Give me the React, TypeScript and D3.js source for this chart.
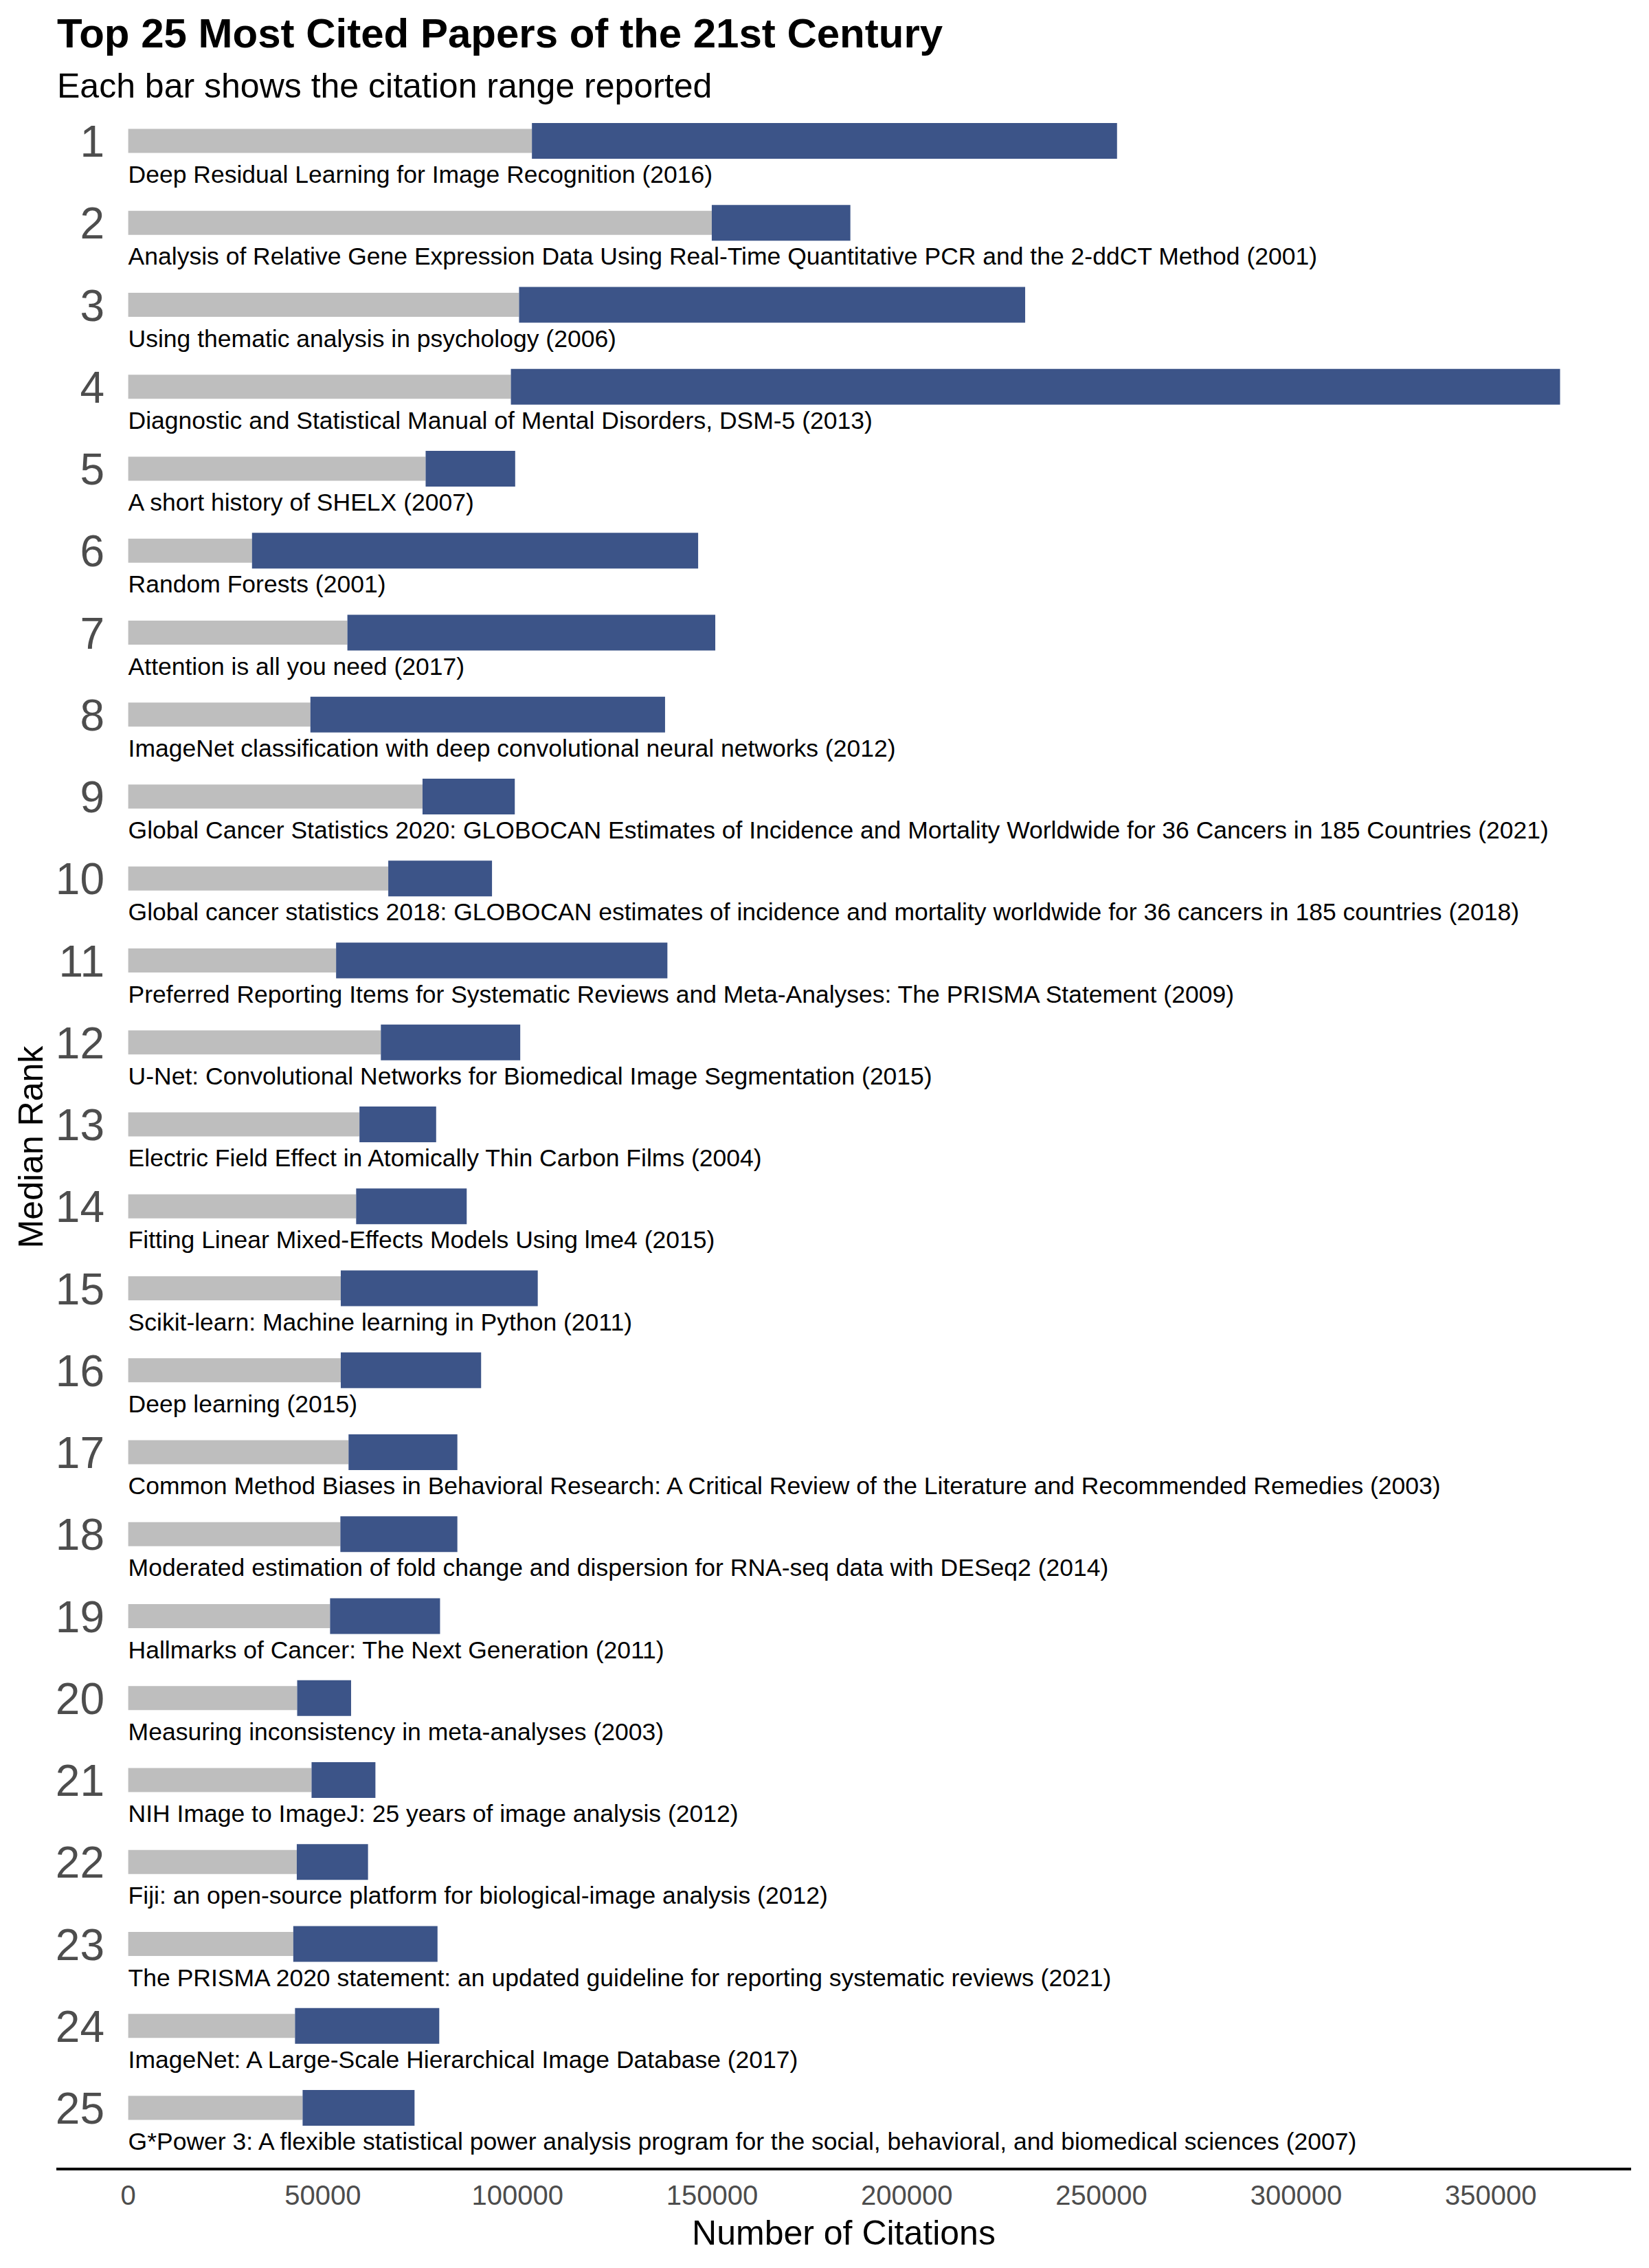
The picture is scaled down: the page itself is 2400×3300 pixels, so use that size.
import * as d3 from "d3";

const ranks = [1, 2, 3, 4, 5, 6, 7, 8, 9, 10, 11, 12, 13, 14, 15, 16, 17, 18, 19, 20, 21, 22, 23, 24, 25];

const titles = [
  "Deep Residual Learning for Image Recognition (2016)",
  "Analysis of Relative Gene Expression Data Using Real-Time Quantitative PCR and the 2-ddCT Method (2001)",
  "Using thematic analysis in psychology (2006)",
  "Diagnostic and Statistical Manual of Mental Disorders, DSM-5 (2013)",
  "A short history of SHELX (2007)",
  "Random Forests (2001)",
  "Attention is all you need (2017)",
  "ImageNet classification with deep convolutional neural networks (2012)",
  "Global Cancer Statistics 2020: GLOBOCAN Estimates of Incidence and Mortality Worldwide for 36 Cancers in 185 Countries (2021)",
  "Global cancer statistics 2018: GLOBOCAN estimates of incidence and mortality worldwide for 36 cancers in 185 countries (2018)",
  "Preferred Reporting Items for Systematic Reviews and Meta-Analyses: The PRISMA Statement (2009)",
  "U-Net: Convolutional Networks for Biomedical Image Segmentation (2015)",
  "Electric Field Effect in Atomically Thin Carbon Films (2004)",
  "Fitting Linear Mixed-Effects Models Using lme4 (2015)",
  "Scikit-learn: Machine learning in Python (2011)",
  "Deep learning (2015)",
  "Common Method Biases in Behavioral Research: A Critical Review of the Literature and Recommended Remedies (2003)",
  "Moderated estimation of fold change and dispersion for RNA-seq data with DESeq2 (2014)",
  "Hallmarks of Cancer: The Next Generation (2011)",
  "Measuring inconsistency in meta-analyses (2003)",
  "NIH Image to ImageJ: 25 years of image analysis (2012)",
  "Fiji: an open-source platform for biological-image analysis (2012)",
  "The PRISMA 2020 statement: an updated guideline for reporting systematic reviews (2021)",
  "ImageNet: A Large-Scale Hierarchical Image Database (2017)",
  "G*Power 3: A flexible statistical power analysis program for the social, behavioral, and biomedical sciences (2007)",
];

// lowest and highest citation counts reported for each paper
const minCitations = [
  103700, 149900, 100400, 98300, 76400, 31800, 56300, 46800, 75600, 66800,
  53400, 64900, 59400, 58550, 54600, 54600, 56600, 54500, 51850, 43400,
  47100, 43300, 42400, 42850, 44800,
];
const maxCitations = [
  254000, 185500, 230400, 367800, 99400, 146400, 150800, 137900, 99300, 93450,
  138500, 100700, 79100, 86950, 105200, 90650, 84550, 84550, 80100, 57250,
  63500, 61600, 79450, 79900, 73550,
];

const xTicks = [0, 50000, 100000, 150000, 200000, 250000, 300000, 350000];

const FONT = "'Liberation Sans', Arial, Helvetica, sans-serif";
const GRAY = "#BEBEBE";
const BLUE = "#3C5488";
const TEXT_GRAY = "#4D4D4D";

export default function App() {
  const width = 2400;
  const height = 3300;

  const x = d3.scaleLinear().domain([0, 350000]).range([186.6, 2169.7]);
  const y = d3.scaleLinear().domain([1, 25]).range([205, 3067]);

  const grayH = 35;
  const blueH = 52;
  const axisY = 3156;

  return (
    <svg
      width={width}
      height={height}
      style={{ position: "absolute", left: 0, top: 0, background: "#fff" }}
      fontFamily={FONT}
    >
      <rect width={width} height={height} fill="#fff" />

      <text x={83} y={69} fontSize={60} fontWeight="bold" fill="#000">
        Top 25 Most Cited Papers of the 21st Century
      </text>
      <text x={83} y={142} fontSize={50} fill="#000">
        Each bar shows the citation range reported
      </text>

      {ranks.map((r, i) => (
        <g key={r}>
          <rect
            x={x(0)}
            y={y(r) - grayH / 2}
            width={x(minCitations[i]) - x(0)}
            height={grayH}
            fill={GRAY}
          />
          <rect
            x={x(minCitations[i])}
            y={y(r) - blueH / 2}
            width={x(maxCitations[i]) - x(minCitations[i])}
            height={blueH}
            fill={BLUE}
          />
          <text
            x={152}
            y={y(r)}
            dy="0.36em"
            textAnchor="end"
            fontSize={64}
            fill={TEXT_GRAY}
          >
            {r}
          </text>
          <text x={x(0)} y={y(r) + 61} fontSize={35.5} fill="#000">
            {titles[i]}
          </text>
        </g>
      ))}

      {/* bottom axis */}
      <line x1={82} x2={2374} y1={axisY} y2={axisY} stroke="#000" strokeWidth={4} />
      {xTicks.map((t) => (
        <text
          key={t}
          x={x(t)}
          y={3208}
          textAnchor="middle"
          fontSize={40}
          fill={TEXT_GRAY}
        >
          {d3.format("d")(t)}
        </text>
      ))}

      <text x={1228} y={3266} textAnchor="middle" fontSize={50} fill="#000">
        Number of Citations
      </text>
      <text
        transform={`translate(62, 1669) rotate(-90)`}
        textAnchor="middle"
        fontSize={50}
        fill="#000"
      >
        Median Rank
      </text>
    </svg>
  );
}
